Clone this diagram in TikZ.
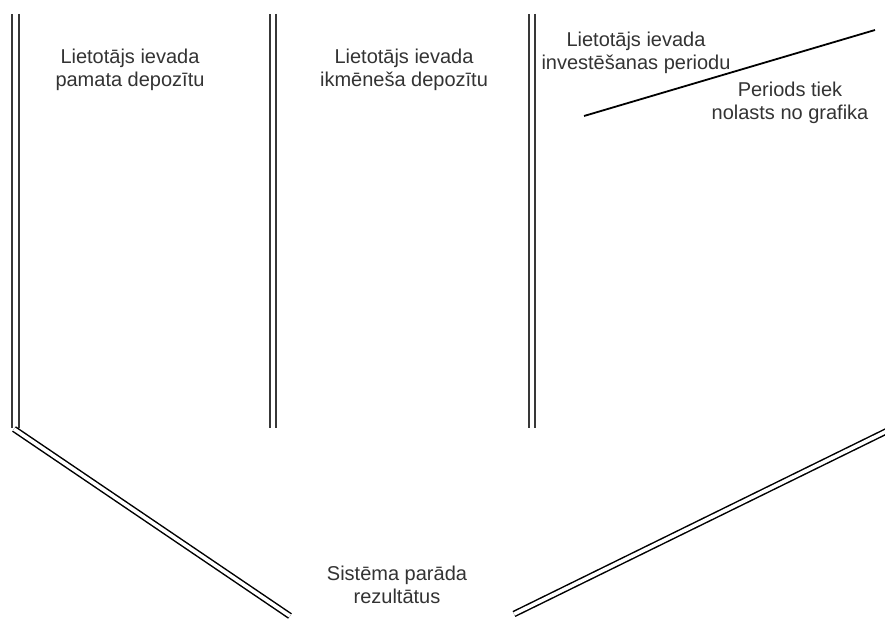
\documentclass[tikz,border=0pt]{standalone}
\usepackage{fontspec}
\setmainfont{Liberation Sans}
\begin{document}
\begin{tikzpicture}[x=1pt,y=-1pt,
  lbl/.style={font=\fontsize{20}{23}\selectfont, align=center, inner sep=0pt, text=black!80},
  vdouble/.style={draw=black!78, line width=2.2pt, double=white, double distance=4.4pt},
  ddouble/.style={draw=black, line width=1.5pt, double=white, double distance=3.6pt},
  single/.style={draw=black, line width=1.8pt}]
\useasboundingbox[fill=white] (0,0) rectangle (885,620);
% coordinates
\coordinate (v1t) at (15.5,14);  \coordinate (v1b) at (15.5,428);
\coordinate (v2t) at (273,14);   \coordinate (v2b) at (273,428);
\coordinate (v3t) at (532,14);   \coordinate (v3b) at (532,428);
\coordinate (d1a) at (14,429);   \coordinate (d1b) at (290,616);
\coordinate (d2a) at (514,614);  \coordinate (d2b) at (887,431);
\coordinate (s1a) at (584,116);  \coordinate (s1b) at (875,30);
% lines
\draw[vdouble] (v1t) -- (v1b);
\draw[vdouble] (v2t) -- (v2b);
\draw[vdouble] (v3t) -- (v3b);
\draw[ddouble] (d1a) -- (d1b);
\draw[ddouble] (d2a) -- (d2b);
\draw[single] (s1a) -- (s1b);
% labels
\node[lbl] (t1) at (130,69.5) {Lietotājs ievada\\pamata depozītu};
\node[lbl] (t2) at (404,69.5) {Lietotājs ievada\\ikmēneša depozītu};
\node[lbl] (t3) at (636,53) {Lietotājs ievada\\investēšanas periodu};
\node[lbl] (t4) at (790,103) {Periods tiek\\nolasts no grafika};
\node[lbl] (t5) at (397,585) {Sistēma parāda\\rezultātus};
\end{tikzpicture}
\end{document}
